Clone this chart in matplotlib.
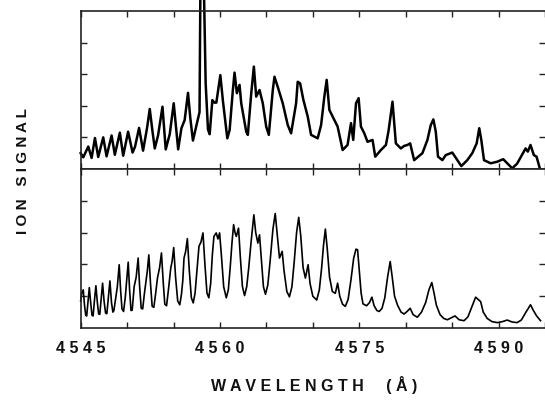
import matplotlib
matplotlib.use("Agg")
import matplotlib.pyplot as plt

# ---- data (wavelength in Angstrom, ion signal in arbitrary units) ----
wl_top = [4545.00, 4545.28, 4545.82, 4546.18, 4546.54, 4546.89, 4547.43, 4547.79, 4548.33, 4548.68,
          4549.22, 4549.58, 4550.11, 4550.59, 4550.85, 4551.29, 4551.72, 4552.15, 4552.44, 4552.73,
          4552.98, 4553.34, 4553.81, 4554.16, 4554.59, 4555.02, 4555.50, 4555.85, 4556.20, 4556.56,
          4556.81, 4557.09, 4557.56, 4557.80, 4557.89, 4558.28, 4558.46, 4558.71, 4558.89, 4559.18,
          4559.40, 4559.61, 4560.04, 4560.32, 4560.79, 4561.04, 4561.39, 4561.57, 4561.82, 4562.11,
          4562.29, 4562.83, 4563.00, 4563.37, 4563.65, 4563.90, 4564.26, 4564.61, 4564.98, 4565.26,
          4565.69, 4565.87, 4566.22, 4566.76, 4567.30, 4567.66, 4568.20, 4568.37, 4568.63, 4568.98,
          4569.45, 4569.81, 4570.52, 4570.89, 4571.24, 4571.49, 4571.78, 4572.32, 4572.67, 4573.21,
          4573.74, 4574.11, 4574.35, 4574.65, 4574.93, 4575.18, 4575.54, 4575.89, 4576.43, 4576.72,
          4577.33, 4577.87, 4578.15, 4578.58, 4578.94, 4579.48, 4579.83, 4580.19, 4580.48, 4580.91,
          4581.80, 4582.34, 4582.70, 4582.98, 4583.24, 4583.48, 4583.95, 4584.31, 4585.02, 4585.99,
          4586.63, 4587.17, 4587.64, 4587.92, 4588.14, 4588.43, 4589.15, 4589.86, 4590.50, 4591.00,
          4591.47, 4592.00, 4592.91, 4593.15, 4593.44, 4593.80, 4594.09, 4594.44]
sig_top = [0.50, 0.37, 0.71, 0.35, 0.98, 0.38, 1.00, 0.40, 1.06, 0.45,
           1.15, 0.42, 1.18, 0.52, 0.70, 1.30, 0.58, 1.30, 1.90, 1.20,
           0.65, 1.07, 1.97, 0.62, 1.10, 2.08, 0.62, 1.29, 1.55, 2.41,
           1.60, 0.90, 1.50, 1.80, 5.60, 5.60, 2.71, 1.25, 1.10, 2.18,
           2.10, 2.10, 2.97, 2.15, 0.97, 1.23, 2.50, 3.05, 2.40, 2.66,
           2.08, 1.18, 1.08, 2.40, 3.24, 2.29, 2.50, 2.08, 1.34, 1.08,
           2.50, 2.92, 2.60, 2.08, 1.39, 1.13, 2.08, 2.76, 2.71, 2.19,
           1.66, 1.08, 0.97, 1.39, 2.29, 2.82, 1.87, 1.55, 1.34, 0.60,
           0.76, 1.45, 0.92, 2.08, 2.24, 1.34, 1.13, 0.86, 0.92, 0.39,
           0.60, 0.76, 1.20, 2.13, 0.81, 0.65, 0.73, 0.76, 0.81, 0.28,
           0.50, 0.92, 1.39, 1.57, 1.18, 0.39, 0.28, 0.44, 0.52, 0.09,
           0.28, 0.50, 0.81, 1.29, 0.92, 0.28, 0.18, 0.23, 0.31, 0.16,
           0.02, 0.17, 0.65, 0.55, 0.76, 0.44, 0.39, 0.02]

wl_bot = [4545.00, 4545.12, 4545.28, 4545.42, 4545.55, 4545.65, 4545.78, 4545.93, 4546.08, 4546.22,
          4546.34, 4546.48, 4546.64, 4546.80, 4546.94, 4547.06, 4547.20, 4547.36, 4547.52, 4547.68,
          4547.82, 4547.98, 4548.15, 4548.32, 4548.47, 4548.58, 4548.79, 4548.95, 4549.15, 4549.30,
          4549.45, 4549.62, 4549.80, 4549.98, 4550.12, 4550.27, 4550.42, 4550.55, 4550.76, 4550.98,
          4551.19, 4551.35, 4551.52, 4551.68, 4551.85, 4552.01, 4552.18, 4552.34, 4552.52, 4552.70,
          4552.88, 4553.08, 4553.27, 4553.50, 4553.70, 4553.90, 4554.06, 4554.25, 4554.45, 4554.70,
          4554.85, 4555.02, 4555.22, 4555.45, 4555.67, 4555.85, 4556.00, 4556.13, 4556.30, 4556.49,
          4556.70, 4556.92, 4557.12, 4557.32, 4557.52, 4557.74, 4557.95, 4558.17, 4558.38, 4558.60,
          4558.80, 4559.00, 4559.18, 4559.35, 4559.60, 4559.78, 4559.96, 4560.15, 4560.40, 4560.68,
          4560.90, 4561.10, 4561.30, 4561.47, 4561.62, 4561.76, 4562.00, 4562.20, 4562.42, 4562.65,
          4562.88, 4563.10, 4563.35, 4563.65, 4563.85, 4564.08, 4564.26, 4564.45, 4564.68, 4564.90,
          4565.15, 4565.40, 4565.70, 4565.95, 4566.15, 4566.41, 4566.55, 4566.70, 4566.90, 4567.20,
          4567.48, 4567.75, 4568.00, 4568.25, 4568.48, 4568.70, 4568.95, 4569.20, 4569.49, 4569.70,
          4570.00, 4570.42, 4570.70, 4570.95, 4571.15, 4571.35, 4571.55, 4571.80, 4572.10, 4572.42,
          4572.67, 4572.90, 4573.20, 4573.50, 4573.80, 4574.10, 4574.40, 4574.65, 4574.82, 4575.00,
          4575.20, 4575.40, 4575.79, 4576.10, 4576.36, 4576.60, 4576.90, 4577.15, 4577.45, 4577.75,
          4578.05, 4578.33, 4578.55, 4578.80, 4579.12, 4579.50, 4579.83, 4580.15, 4580.48, 4580.80,
          4581.26, 4581.70, 4582.15, 4582.50, 4582.81, 4583.05, 4583.30, 4583.70, 4584.10, 4584.49,
          4584.90, 4585.31, 4585.75, 4586.28, 4586.70, 4587.10, 4587.53, 4588.07, 4588.35, 4588.78,
          4589.30, 4589.86, 4590.40, 4590.93, 4591.45, 4592.00, 4592.45, 4592.95, 4593.44, 4593.75,
          4594.10, 4594.52]
sig_bot = [0.85, 1.10, 1.20, 0.70, 0.40, 0.38, 0.80, 1.27, 0.80, 0.40,
           0.38, 0.85, 1.33, 0.80, 0.44, 0.43, 0.90, 1.41, 0.85, 0.47,
           0.45, 0.95, 1.48, 0.80, 0.50, 0.55, 0.99, 1.30, 1.99, 1.20,
           0.60, 0.52, 0.95, 1.60, 2.07, 1.20, 0.55, 0.56, 1.30, 1.60,
           2.20, 1.30, 0.62, 0.60, 1.05, 1.41, 1.80, 2.30, 1.40, 0.68,
           0.65, 1.10, 1.57, 1.90, 2.36, 1.40, 0.75, 0.70, 1.20, 1.88,
           2.10, 2.53, 1.60, 0.85, 0.73, 1.05, 1.50, 2.20, 2.40, 2.81,
           1.80, 0.95, 0.79, 1.10, 1.80, 2.57, 2.70, 2.99, 2.00, 1.10,
           0.95, 1.40, 2.30, 2.88, 2.99, 2.80, 2.99, 2.30, 1.30, 0.95,
           1.20, 1.90, 2.70, 3.25, 3.00, 2.88, 3.14, 2.20, 1.30, 1.02,
           1.30, 1.90, 2.70, 3.56, 3.00, 2.67, 2.93, 2.20, 1.30, 1.06,
           1.35, 2.10, 3.10, 3.60, 3.00, 2.20, 2.30, 2.41, 1.80, 1.15,
           0.98, 1.30, 2.10, 3.00, 3.48, 2.90, 1.90, 1.57, 1.99, 1.40,
           1.00, 0.88, 1.20, 1.90, 2.60, 3.11, 2.50, 1.60, 1.15, 1.09,
           1.41, 1.00, 0.75, 0.68, 0.90, 1.50, 2.20, 2.48, 2.46, 1.80,
           1.10, 0.76, 0.70, 0.80, 0.97, 0.70, 0.55, 0.52, 0.62, 0.95,
           1.60, 2.09, 1.60, 1.00, 0.72, 0.50, 0.44, 0.52, 0.62, 0.42,
           0.34, 0.50, 0.80, 1.20, 1.43, 1.10, 0.72, 0.42, 0.30, 0.26,
           0.32, 0.38, 0.26, 0.23, 0.35, 0.65, 0.97, 0.83, 0.50, 0.30,
           0.20, 0.17, 0.20, 0.25, 0.19, 0.17, 0.25, 0.50, 0.73, 0.55,
           0.38, 0.23]

x_ticks = [4545, 4550, 4555, 4560, 4565, 4570, 4575, 4580, 4585, 4590, 4595]
x_tick_labels = ["4 5 4 5", "", "", "4 5 6 0", "", "", "4 5 7 5", "", "", "4 5 9 0", ""]
y_ticks = [1, 2, 3, 4]

# ---- figure ----
fig = plt.figure(figsize=(5.45, 4.01), dpi=100)
fig.patch.set_facecolor("white")

ax_top = fig.add_axes([0.148, 0.5786, 0.852, 0.394])
ax_bot = fig.add_axes([0.148, 0.182, 0.852, 0.3966])

for ax in (ax_top, ax_bot):
    ax.set_xlim(4545, 4595)
    ax.set_ylim(0, 5)
    ax.set_xticks(x_ticks)
    ax.set_yticks(y_ticks)
    ax.tick_params(direction="in", length=4, width=1.0, color="#222222",
                   top=True, bottom=True, left=True, right=True,
                   labelleft=False, labelright=False, labeltop=False)
    for side in ("left", "top", "bottom"):
        ax.spines[side].set_linewidth(1.2)
        ax.spines[side].set_color("#222222")
    ax.spines["right"].set_visible(False)

ax_top.tick_params(labelbottom=False)
ax_bot.set_xticklabels(x_tick_labels, fontsize=11.5, family="Liberation Sans",
                       fontweight="bold", color="#111111")
ax_bot.tick_params(axis="x", pad=9)

ax_top.plot(wl_top, sig_top, color="black", lw=1.8, clip_on=False,
            solid_joinstyle="round")
ax_bot.plot(wl_bot, sig_bot, color="black", lw=1.2, clip_on=False,
            solid_joinstyle="round")

fig.text(0.576, 0.040, "W A V E L E N G T H     ( Å )", ha="center", va="center",
         fontsize=11.5, family="Liberation Sans", fontweight="bold", color="#111111")
fig.text(0.042, 0.574, "I O N   S I G N A L", ha="center", va="center",
         rotation=90, fontsize=11, family="Liberation Sans", fontweight="bold",
         color="#111111")

fig.savefig("out.png", dpi=100, facecolor="white")
